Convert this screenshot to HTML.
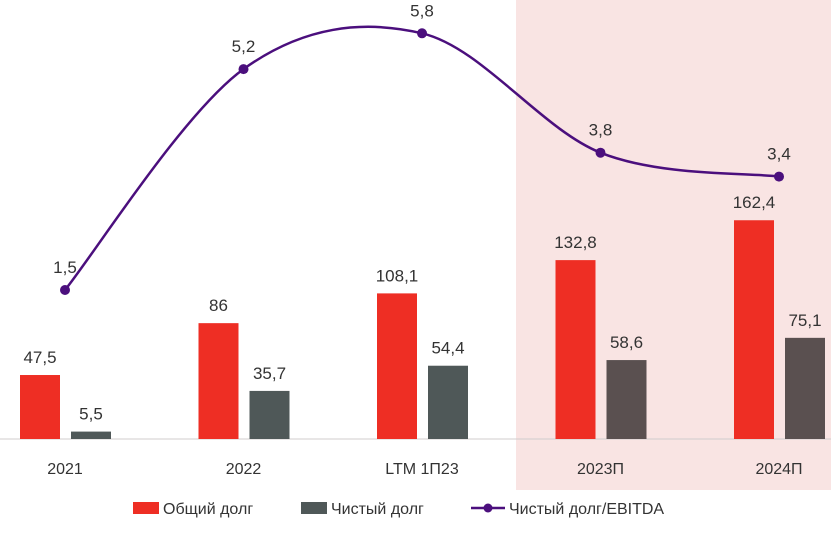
<!DOCTYPE html>
<html><head><meta charset="utf-8"><style>
body{margin:0;background:#fff;width:831px;height:538px;overflow:hidden;font-family:"Liberation Sans",sans-serif}
</style></head><body>
<svg id="chart" width="831" height="538" xmlns="http://www.w3.org/2000/svg" font-family="Liberation Sans, sans-serif">
<rect x="516" y="0" width="315" height="490" fill="#f9e4e3"/>
<line x1="0" y1="439" x2="831" y2="439" stroke="#d0cccc" stroke-width="1"/>
<g id="bars"></g><g id="line"></g><g id="labels"></g>
<g font-size="16" fill="#333">
<rect x="133" y="502" width="26" height="12" fill="#ee2e24"/>
<text x="163" y="514">Общий долг</text>
<rect x="301" y="502" width="26" height="12" fill="#4f5858"/>
<text x="331" y="514">Чистый долг</text>
<line x1="471" y1="508" x2="505" y2="508" stroke="#4b0f7d" stroke-width="2.5"/>
<circle cx="488" cy="508" r="4.5" fill="#4b0f7d"/>
<text x="509" y="514">Чистый долг/EBITDA</text>
</g>
</svg>
<script>
const categories=["2021","2022","LTM 1П23","2023П","2024П"];
const totalDebt=[47.5,86,108.1,132.8,162.4];
const netDebt=[5.5,35.7,54.4,58.6,75.1];
const ratio=[1.5,5.2,5.8,3.8,3.4];
const ratioLabels=["1,5","5,2","5,8","3,8","3,4"];
const NS="http://www.w3.org/2000/svg";
const fmt=v=>String(v).replace('.',',');
const xC=i=>65+i*178.5;
const yB=v=>439-v*1.347;
const yL=v=>290-(v-1.5)*59.7;
const bars=document.getElementById('bars'),labs=document.getElementById('labels'),lg=document.getElementById('line');
function mk(tag,attrs,parent){const e=document.createElementNS(NS,tag);for(const k in attrs)e.setAttribute(k,attrs[k]);parent.appendChild(e);return e;}
function txt(x,y,s,size,parent){const t=mk('text',{x:x,y:y,'text-anchor':'middle','font-size':size,fill:'#333'},parent);t.textContent=s;return t;}
categories.forEach((c,i)=>{
  const cx=xC(i);
  const r=mk('rect',{x:cx-45,y:yB(totalDebt[i]),width:40,height:totalDebt[i]*1.347,fill:'#ee2e24'},bars);
  
  
  const g=mk('rect',{x:cx+6,y:yB(netDebt[i]),width:40,height:netDebt[i]*1.347,fill:i>=3?'#5a5050':'#4f5858'},bars);
  
  
  const t1=txt(cx-25,yB(totalDebt[i])-12,fmt(totalDebt[i]),17,labs);
  
  
  const t2=txt(cx+26,yB(netDebt[i])-12,fmt(netDebt[i]),17,labs);
  
  
  const xl=txt(cx,474,c,16,labs);
  
  
});
const pts=ratio.map((v,i)=>[xC(i),yL(v)]);
let d='M'+pts[0][0]+','+pts[0][1];
for(let i=0;i<pts.length-1;i++){
  const p0=pts[Math.max(i-1,0)],p1=pts[i],p2=pts[i+1],p3=pts[Math.min(i+2,pts.length-1)];
  const c1=[p1[0]+(p2[0]-p0[0])/6,p1[1]+(p2[1]-p0[1])/6],c2=[p2[0]-(p3[0]-p1[0])/6,p2[1]-(p3[1]-p1[1])/6];
  d+=` C${c1[0]},${c1[1]} ${c2[0]},${c2[1]} ${p2[0]},${p2[1]}`;
}
const path=mk('path',{d:d,fill:'none',stroke:'#4b0f7d','stroke-width':2.5},lg);


pts.forEach((p,i)=>{
  const c=mk('circle',{cx:p[0],cy:p[1],r:5,fill:'#4b0f7d'},lg);
  
  
  const t=txt(p[0],p[1]-17,ratioLabels[i],17,labs);
  
  
});
</script>
</body></html>
